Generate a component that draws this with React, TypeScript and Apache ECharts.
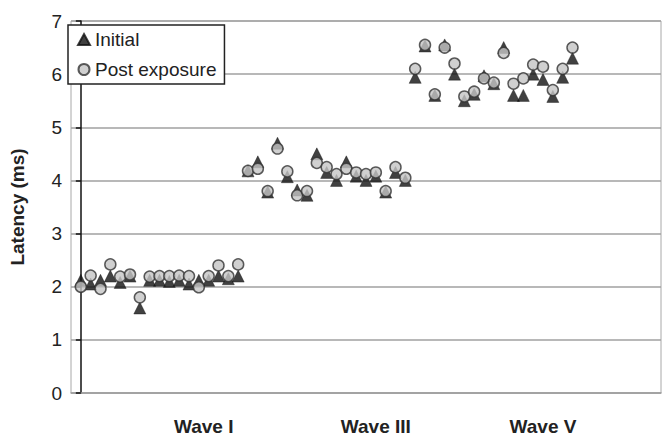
import React, { useEffect, useRef } from "react";
import * as echarts from "echarts";

const waveLabels = ["Wave I", "Wave III", "Wave V"];
const waveLabelPos = [12.5, 30, 47];
const yTicks = [0, 1, 2, 3, 4, 5, 6, 7];

const initialWaveI = [2.12, 2.05, 2.12, 2.2, 2.08, 2.2, 1.6, 2.12, 2.12, 2.1, 2.12, 2.05, 2.12, 2.12, 2.2, 2.15, 2.2];
const initialWaveIII = [4.18, 4.35, 3.78, 4.7, 4.07, 3.82, 3.72, 4.5, 4.15, 4.0, 4.35, 4.08, 4.0, 4.08, 3.78, 4.15, 4.0];
const initialWaveV = [5.94, 6.53, 5.6, 6.55, 6.0, 5.5, 5.62, 5.97, 5.82, 6.5, 5.6, 5.6, 6.0, 5.9, 5.58, 5.94, 6.3];

const postWaveI = [2.0, 2.21, 1.96, 2.42, 2.19, 2.23, 1.8, 2.19, 2.2, 2.2, 2.21, 2.2, 1.99, 2.2, 2.4, 2.2, 2.42];
const postWaveIII = [4.18, 4.22, 3.8, 4.6, 4.17, 3.72, 3.8, 4.33, 4.25, 4.12, 4.22, 4.15, 4.12, 4.15, 3.8, 4.25, 4.05];
const postWaveV = [6.1, 6.55, 5.62, 6.5, 6.2, 5.58, 5.67, 5.92, 5.84, 6.4, 5.82, 5.92, 6.18, 6.14, 5.7, 6.1, 6.5];

const FONT = "'Liberation Sans', Arial, sans-serif";

function toPoints(arrs: number[][]): number[][] {
  const out: number[][] = [];
  let i = 0;
  arrs.forEach((a) => a.forEach((v) => { out.push([i, v]); i++; }));
  return out;
}

export default function App() {
  const ref = useRef<HTMLDivElement>(null);
  useEffect(() => {
    if (!ref.current) return;
    const chart = echarts.init(ref.current, null, { renderer: "svg" });
    const initial = toPoints([initialWaveI, initialWaveIII, initialWaveV]);
    const post = toPoints([postWaveI, postWaveIII, postWaveV]);
    chart.setOption({
      animation: false,
      backgroundColor: "#fff",
      grid: { left: 67, right: 1, top: 21, bottom: 42, show: true, borderColor: "#a8a8a8", borderWidth: 1 },
      legend: {
        left: 68,
        top: 25,
        orient: "vertical",
        backgroundColor: "#fff",
        borderColor: "#222",
        borderWidth: 1.5,
        borderRadius: 0,
        padding: [5, 8, 5, 9],
        itemGap: 11,
        itemWidth: 12,
        itemHeight: 11,
        textStyle: { fontFamily: FONT, fontSize: 19, color: "#222" },
        data: ["Initial", "Post exposure"],
      },
      xAxis: {
        type: "value",
        min: -1,
        max: 59,
        interval: 0.5,
        axisLine: { show: true, lineStyle: { color: "#a0a0a0", width: 1.5 } },
        axisTick: { show: false },
        splitLine: { show: false },
        axisLabel: {
          margin: 24,
          fontFamily: FONT,
          fontSize: 19,
          fontWeight: "bold",
          color: "#222",
          showMinLabel: true,
          showMaxLabel: true,
          formatter: (v: number) => {
            const k = waveLabelPos.findIndex((p) => Math.abs(p - v) < 1e-6);
            return k >= 0 ? waveLabels[k] : "";
          },
        },
      },
      yAxis: {
        type: "value",
        min: yTicks[0],
        max: yTicks[yTicks.length - 1],
        interval: 1,
        name: "Latency (ms)",
        nameLocation: "middle",
        nameRotate: 90,
        nameGap: 44,
        nameTextStyle: { fontFamily: FONT, fontSize: 19, fontWeight: "bold", color: "#222" },
        axisLine: { show: true, lineStyle: { color: "#111", width: 1.5 } },
        axisTick: { show: true, inside: false, length: 5, lineStyle: { color: "#111", width: 1.5 } },
        splitLine: { show: true, lineStyle: { color: "#a0a0a0", width: 1.5 } },
        axisLabel: { margin: 9, fontFamily: FONT, fontSize: 19, color: "#222" },
      },
      series: [
        {
          name: "Initial",
          type: "scatter",
          symbol: "triangle",
          symbolSize: 12,
          itemStyle: { color: "#111", borderColor: "#111", borderWidth: 0.5 },
          data: initial,
          z: 2,
        },
        {
          name: "Post exposure",
          type: "scatter",
          symbol: "circle",
          symbolSize: 11,
          itemStyle: { color: "#c4c4c4", borderColor: "#333", borderWidth: 1.5 },
          data: post,
          z: 3,
        },
      ],
    });
    return () => chart.dispose();
  }, []);
  return <div ref={ref} style={{ width: 664, height: 436, position: "absolute", left: 0, top: 0 }} />;
}
